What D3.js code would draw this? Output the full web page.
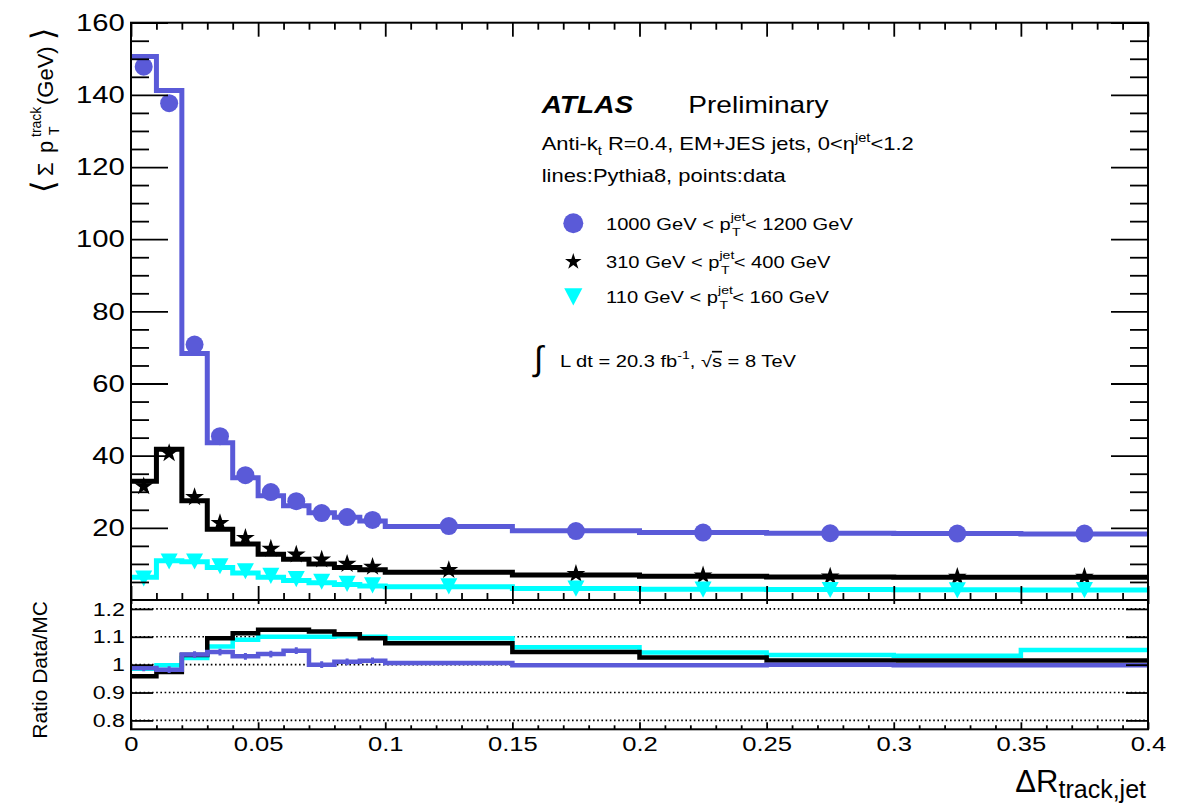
<!DOCTYPE html>
<html>
<head>
<meta charset="utf-8">
<script src="https://cdn.jsdelivr.net/npm/d3@7"></script>
<style>
  body { margin: 0; background: #fff; }
  text { font-family: "Liberation Sans", Arial, Helvetica, sans-serif; fill: #000; }
</style>
</head>
<body>
<div id="chart"></div>
<script>
// bins in delta R (first ten 0.01 wide, then 0.05 wide)
const binEdges = [0, 0.01, 0.02, 0.03, 0.04, 0.05, 0.06, 0.07, 0.08, 0.09, 0.1, 0.15, 0.2, 0.25, 0.3, 0.35, 0.4];
const binCenters = [0.005, 0.015, 0.025, 0.035, 0.045, 0.055, 0.065, 0.075, 0.085, 0.095, 0.125, 0.175, 0.225, 0.275, 0.325, 0.375];

// <sum pT track> (GeV), Pythia8 lines and data points
const mc1000 = [150.6, 141.2, 68.3, 43.6, 33.9, 28.9, 26.1, 24.2, 22.9, 21.9, 20.4, 19.2, 18.7, 18.5, 18.4, 18.3];
const data1000 = [147.8, 137.7, 70.8, 45.4, 34.6, 29.9, 27.4, 24.1, 23.0, 22.2, 20.5, 19.1, 18.7, 18.5, 18.4, 18.4];
const mc310 = [32.9, 41.8, 27.5, 19.6, 15.5, 12.7, 11.3, 10.0, 9.0, 8.4, 7.7, 6.9, 6.6, 6.4, 6.3, 6.3];
const data310 = [31.5, 40.7, 28.5, 21.3, 17.2, 14.2, 12.6, 11.2, 10.0, 9.2, 8.3, 7.2, 6.8, 6.5, 6.4, 6.4];
const mc110 = [6.3, 10.9, 10.6, 9.0, 7.5, 6.3, 5.4, 4.8, 4.3, 3.9, 3.7, 3.2, 3.0, 2.9, 2.85, 2.8];
const data110 = [6.2, 10.9, 10.9, 9.6, 8.2, 6.9, 6.0, 5.3, 4.7, 4.3, 4.0, 3.4, 3.1, 3.0, 2.9, 2.95];

// ratio data / MC
const ratio1000 = [0.988, 0.982, 1.036, 1.045, 1.03, 1.038, 1.05, 1.0, 1.01, 1.014, 1.006, 0.998, 0.998, 1.0, 0.998, 0.998];
const ratioErr1000 = [0.012, 0.012, 0.012, 0.012, 0.012, 0.012, 0.012, 0.012, 0.012, 0.012, 0, 0, 0, 0, 0, 0];
const ratio310 = [0.958, 0.974, 1.035, 1.095, 1.113, 1.125, 1.125, 1.119, 1.109, 1.095, 1.077, 1.045, 1.026, 1.015, 1.015, 1.015];
const ratio110 = [0.985, 0.998, 1.024, 1.065, 1.089, 1.1, 1.1, 1.1, 1.102, 1.1, 1.095, 1.062, 1.044, 1.035, 1.032, 1.053];

// tick values
const xMajor = [0, 0.05, 0.1, 0.15, 0.2, 0.25, 0.3, 0.35, 0.4];
const yMajor = [20, 40, 60, 80, 100, 120, 140, 160];
const ratioTicks = [0.8, 0.9, 1, 1.1, 1.2];

// legend
const legendLow = ['1000', '310', '110'];
const legendHigh = ['1200', '400', '160'];

const blue = '#5a5ad8';
const cyan = '#00ffff';
const SX = 1.22; // text in the original renders wide

const width = 1183, height = 804;
const left = 131, right = 1148;
const mainTop = 22.7, mainBot = 600, ratioBot = 729.3;

const svg = d3.select('#chart').append('svg')
    .attr('width', width)
    .attr('height', height);

const x = d3.scaleLinear().domain([0, 0.4]).range([left, right]);
const y = d3.scaleLinear().domain([0, 160]).range([mainBot, mainTop]);
const yr = d3.scaleLinear().domain([0.768, 1.232]).range([ratioBot, mainBot]);

const xMinor = d3.range(0, 41).filter(i => i % 5 !== 0).map(i => i / 100);
const yMinor = d3.range(5, 160, 5).filter(v => v % 20 !== 0);

// clip paths
const defs = svg.append('defs');
defs.append('clipPath').attr('id', 'clipMain').append('rect')
    .attr('x', left).attr('y', mainTop).attr('width', right - left).attr('height', mainBot - mainTop);
defs.append('clipPath').attr('id', 'clipRatio').append('rect')
    .attr('x', left).attr('y', mainBot).attr('width', right - left).attr('height', ratioBot - mainBot);

// dotted reference lines in ratio panel
svg.append('g').selectAll('line')
    .data(ratioTicks)
    .enter().append('line')
    .attr('x1', left).attr('x2', right)
    .attr('y1', d => yr(d)).attr('y2', d => yr(d))
    .attr('stroke', '#000')
    .attr('stroke-width', 1.6)
    .attr('stroke-dasharray', '1.6,2.6');

// histogram step helper
function stepPath(scaleY, vals) {
    const pts = binEdges.map((e, i) => [e, vals[Math.min(i, vals.length - 1)]]);
    return d3.line()
        .x(d => x(d[0]))
        .y(d => scaleY(d[1]))
        .curve(d3.curveStepAfter)(pts);
}

// main panel histograms
const mainG = svg.append('g').attr('clip-path', 'url(#clipMain)');
[[mc1000, blue], [mc310, '#000'], [mc110, cyan]].forEach(([vals, col]) => {
    mainG.append('path')
        .attr('d', stepPath(y, vals))
        .attr('fill', 'none')
        .attr('stroke', col)
        .attr('stroke-width', 5);
});

// marker shapes
const triangleDown = {
    draw(ctx, size) {
        const w = Math.sqrt(size) / 2;
        ctx.moveTo(-w, -w * 0.85);
        ctx.lineTo(w, -w * 0.85);
        ctx.lineTo(0, w * 1.05);
        ctx.closePath();
    }
};
const circleSym = d3.symbol().type(d3.symbolCircle).size(Math.PI * 9 * 9);
const starSym = d3.symbol().type(d3.symbolStar).size(110);
const triSym = d3.symbol().type(triangleDown).size(290);

function points(vals, sym, col) {
    mainG.append('g').selectAll('path')
        .data(vals)
        .enter().append('path')
        .attr('d', sym)
        .attr('transform', (d, i) => `translate(${x(binCenters[i])},${y(d)})`)
        .attr('fill', col);
}
points(data1000, circleSym, blue);
points(data310, starSym, '#000');
points(data110, triSym, cyan);

// ratio panel
const ratioG = svg.append('g').attr('clip-path', 'url(#clipRatio)');
[[ratio110, cyan], [ratio310, '#000'], [ratio1000, blue]].forEach(([vals, col]) => {
    ratioG.append('path')
        .attr('d', stepPath(yr, vals))
        .attr('fill', 'none')
        .attr('stroke', col)
        .attr('stroke-width', 4.5);
});
ratioG.append('g').selectAll('line')
    .data(ratio1000)
    .enter().append('line')
    .attr('x1', (d, i) => x(binCenters[i])).attr('x2', (d, i) => x(binCenters[i]))
    .attr('y1', (d, i) => yr(d - ratioErr1000[i])).attr('y2', (d, i) => yr(d + ratioErr1000[i]))
    .attr('stroke', blue)
    .attr('stroke-width', 3);

// axes (ROOT style: ticks inside on all sides)
function addAxis(axis, tx, ty) {
    const g = svg.append('g').attr('transform', `translate(${tx},${ty})`).call(axis);
    g.select('.domain').remove();
    g.selectAll('line').attr('stroke-width', 1.8);
    return g;
}
const fmt = d3.format('~g');

// main panel
const yl = addAxis(d3.axisLeft(y).tickValues(yMajor).tickSize(-37).tickPadding(5).tickFormat(fmt), left, 0);
yl.selectAll('text').attr('font-size', 24).attr('font-family', '"Liberation Sans", Arial, sans-serif')
    .attr('transform', `scale(${SX},1)`);
addAxis(d3.axisLeft(y).tickValues(yMinor).tickSize(-18).tickFormat(''), left, 0);
addAxis(d3.axisRight(y).tickValues(yMajor).tickSize(-37).tickFormat(''), right, 0);
addAxis(d3.axisRight(y).tickValues(yMinor).tickSize(-18).tickFormat(''), right, 0);
addAxis(d3.axisTop(x).tickValues(xMajor).tickSize(-14).tickFormat(''), 0, mainTop);
addAxis(d3.axisTop(x).tickValues(xMinor).tickSize(-7).tickFormat(''), 0, mainTop);
addAxis(d3.axisBottom(x).tickValues(xMajor).tickSize(-14).tickFormat(''), 0, mainBot);
addAxis(d3.axisBottom(x).tickValues(xMinor).tickSize(-7).tickFormat(''), 0, mainBot);

// ratio panel
const rl = addAxis(d3.axisLeft(yr).tickValues(ratioTicks).tickSize(-22).tickPadding(5).tickFormat(fmt), left, 0);
rl.selectAll('text').attr('font-size', 19).attr('font-family', '"Liberation Sans", Arial, sans-serif')
    .attr('transform', `scale(${SX},1)`);
addAxis(d3.axisRight(yr).tickValues(ratioTicks).tickSize(-22).tickFormat(''), right, 0);
addAxis(d3.axisTop(x).tickValues(xMajor).tickSize(-4).tickFormat(''), 0, mainBot);
const xb = addAxis(d3.axisBottom(x).tickValues(xMajor).tickSize(-7).tickPadding(7).tickFormat(fmt), 0, ratioBot);
xb.selectAll('text').attr('font-size', 21).attr('font-family', '"Liberation Sans", Arial, sans-serif')
    .attr('transform', `scale(${SX},1)`);
addAxis(d3.axisBottom(x).tickValues(xMinor).tickSize(-4).tickFormat(''), 0, ratioBot);

// frames
[[mainTop, mainBot], [mainBot, ratioBot]].forEach(([t, b]) => {
    svg.append('rect')
        .attr('x', left).attr('y', t)
        .attr('width', right - left).attr('height', b - t)
        .attr('fill', 'none').attr('stroke', '#000').attr('stroke-width', 2);
});

// axis titles
const yt = svg.append('text').attr('transform', 'translate(53,193) rotate(-90)').attr('font-size', 22);
yt.append('tspan').attr('x', 0).attr('y', 1).attr('font-family', '"DejaVu Sans", sans-serif').attr('font-size', 32).text('⟨');
yt.append('tspan').attr('x', 17).attr('y', 0).text('Σ');
yt.append('tspan').attr('x', 40).attr('y', 0).text('p');
yt.append('tspan').attr('x', 58).attr('y', 6).attr('font-size', 14).text('T');
yt.append('tspan').attr('x', 56).attr('y', -12).attr('font-size', 14).text('track');
yt.append('tspan').attr('x', 88).attr('y', 0).text('(GeV)');
yt.append('tspan').attr('x', 153).attr('y', 1).attr('font-family', '"DejaVu Sans", sans-serif').attr('font-size', 32).text('⟩');

svg.append('text')
    .attr('transform', 'translate(47,601) rotate(-90)')
    .attr('text-anchor', 'end')
    .attr('font-size', 21)
    .text('Ratio Data/MC');

const xt = svg.append('text')
    .attr('x', 1146).attr('y', 791.7)
    .attr('text-anchor', 'end')
    .attr('font-size', 31);
xt.append('tspan').text('ΔR');
xt.append('tspan').attr('font-size', 25).attr('dy', 6).text('track,jet');

// annotations
function note(px, py, size) {
    return svg.append('text')
        .attr('transform', `translate(${px},${py}) scale(${SX},1)`)
        .attr('font-size', size);
}
note(541.7, 113.3, 23).attr('font-weight', 'bold').attr('font-style', 'italic').text('ATLAS');
note(688.3, 113.3, 23).text('Preliminary');

const t1 = note(541.7, 150, 18);
t1.append('tspan').text('Anti-k');
t1.append('tspan').attr('font-size', 12).attr('dy', 5).text('t');
t1.append('tspan').attr('dy', -5).text(' R=0.4, EM+JES jets, 0<η');
t1.append('tspan').attr('font-size', 12).attr('dy', -8).text('jet');
t1.append('tspan').attr('dy', 8).text('<1.2');

note(541.7, 181.7, 18).text('lines:Pythia8, points:data');

// legend
const legendY = [223.3, 261.7, 296];
const legendSym = [
    d3.symbol().type(d3.symbolCircle).size(Math.PI * 10 * 10),
    d3.symbol().type(d3.symbolStar).size(85),
    d3.symbol().type(triangleDown).size(330)
];
const legendCol = [blue, '#000', cyan];
legendLow.forEach((lo, i) => {
    svg.append('path')
        .attr('d', legendSym[i])
        .attr('transform', `translate(573.3,${legendY[i]})`)
        .attr('fill', legendCol[i]);
    const t = note(606, legendY[i] + 6.7, 16.5);
    t.append('tspan').text(`${lo} GeV < p`);
    t.append('tspan').attr('font-size', 11.5).attr('dy', -9).text('jet');
    t.append('tspan').attr('font-size', 11.5).attr('dx', -11).attr('dy', 15).text('T');
    t.append('tspan').attr('dx', 3.5).attr('dy', -6).text(`< ${legendHigh[i]} GeV`);
});

// luminosity line
svg.append('text')
    .attr('x', 534).attr('y', 370)
    .attr('font-family', '"DejaVu Sans", sans-serif')
    .attr('font-size', 34)
    .text('∫');
const lum = note(560, 367, 16.5);
lum.append('tspan').text('L dt = 20.3 fb');
lum.append('tspan').attr('font-size', 11.5).attr('dy', -8).text('-1');
lum.append('tspan').attr('dy', 8).text(', √');
lum.append('tspan').attr('text-decoration', 'overline').text('s');
lum.append('tspan').text(' = 8 TeV');
</script>
</body>
</html>
